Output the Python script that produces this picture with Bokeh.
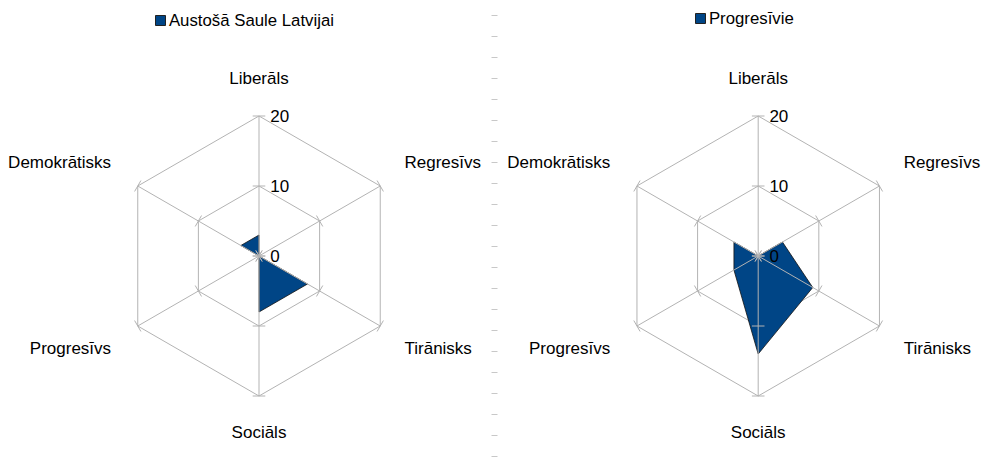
import math
from bokeh.plotting import figure
from bokeh.models import Range1d
from bokeh.embed import file_html
from bokeh.resources import INLINE
from bokeh.core.properties import value

# ---- data ----
categories = ["Liberāls", "Regresīvs", "Tirānisks", "Sociāls", "Progresīvs", "Demokrātisks"]
series_names = ["Austošā Saule Latvijai", "Progresīvie"]
values_left = [3, 0, 8, 8, 0, 3]
values_right = [0, 4, 9, 14, 4, 4]
ring_levels = [0, 10, 20]
tick_labels = ["0", "10", "20"]
r_max = 20

# ---- layout / style ----
W, H = 995, 466
PX = 7.0  # pixels per value unit
FONT = "Liberation Sans"
FILL = "#004586"
GRID = "#b3b3b3"

p = figure(width=W, height=H, x_range=Range1d(0, W / PX), y_range=Range1d(0, H / PX),
           output_backend="svg", toolbar_location=None, min_border=0)
p.axis.visible = False
p.grid.visible = False
p.outline_line_color = None
p.background_fill_color = "white"


def page(x, y):
    return (x / PX, (H - y) / PX)


centers = [page(258.5, 255.5), page(757.7, 255.5)]
series = [values_left, values_right]
legend_pos = [page(160, 20), page(700, 18)]

n = len(categories)
angles = [2 * math.pi * i / n for i in range(n)]


def draw_radar(cx, cy, vals, name, lpos):
    # rings
    for L in ring_levels[1:]:
        xs = [cx + L * math.sin(a) for a in angles] + [cx]
        ys = [cy + L * math.cos(a) for a in angles] + [cy + L]
        p.line(xs, ys, line_color=GRID, line_width=1)
    # data polygon
    px_ = [cx + v * math.sin(a) for v, a in zip(vals, angles)]
    py_ = [cy + v * math.cos(a) for v, a in zip(vals, angles)]
    p.patch(px_, py_, fill_color=FILL, line_color="#111111", line_width=0.8)
    # spokes
    p.segment(x0=[cx] * n, y0=[cy] * n,
              x1=[cx + r_max * math.sin(a) for a in angles],
              y1=[cy + r_max * math.cos(a) for a in angles],
              line_color=GRID, line_width=1)
    # ticks
    h = 0.9
    x0, y0, x1, y1 = [], [], [], []
    for a in angles:
        for L in ring_levels:
            bx, by = cx + L * math.sin(a), cy + L * math.cos(a)
            dx, dy = math.cos(a) * h, -math.sin(a) * h
            x0.append(bx - dx); y0.append(by - dy)
            x1.append(bx + dx); y1.append(by + dy)
    p.segment(x0=x0, y0=y0, x1=x1, y1=y1, line_color=GRID, line_width=1)
    # tick labels
    p.text(x=[cx + 1.6] * len(ring_levels), y=[cy + L for L in ring_levels], text=tick_labels,
           text_font=value(FONT), text_font_size="17px", text_color="#000000",
           text_align="left", text_baseline="middle")
    # category labels
    for cat, a in zip(categories, angles):
        s, c = math.sin(a), math.cos(a)
        if abs(s) < 1e-6:
            align = "center"
            lx, ly = cx, cy + (25.4 if c > 0 else 25.2) * c
        else:
            align = "left" if s > 0 else "right"
            fx = 24.0 if s > 0 else 24.4
            fy = 26.7 if c > 0 else 26.4
            lx, ly = cx + fx * s, cy + fy * c
        p.text(x=[lx], y=[ly], text=[cat], text_font=value(FONT), text_font_size="17px",
               text_color="#000000", text_align=align, text_baseline="middle")
    # legend
    p.scatter(x=[lpos[0]], y=[lpos[1]], marker="square", size=10, fill_color=FILL,
              line_color="#222222", line_width=1)
    p.text(x=[lpos[0] + 1.2], y=[lpos[1]], text=[name], text_font=value(FONT),
           text_font_size="16.8px", text_color="#000000", text_align="left",
           text_baseline="middle")


for (cx, cy), vals, name, lpos in zip(centers, series, series_names, legend_pos):
    draw_radar(cx, cy, vals, name, lpos)

# separator column of short dashes
dash_y = [15 + 21 * k for k in range(22)]
sx0, sy0, sx1, sy1 = [], [], [], []
for yy in dash_y:
    a0 = page(491, yy); a1 = page(497, yy)
    sx0.append(a0[0]); sy0.append(a0[1]); sx1.append(a1[0]); sy1.append(a1[1])
p.segment(x0=sx0, y0=sy0, x1=sx1, y1=sy1, line_color="#c8c8c8", line_width=1)

open("out.html", "w").write(file_html(p, INLINE))
